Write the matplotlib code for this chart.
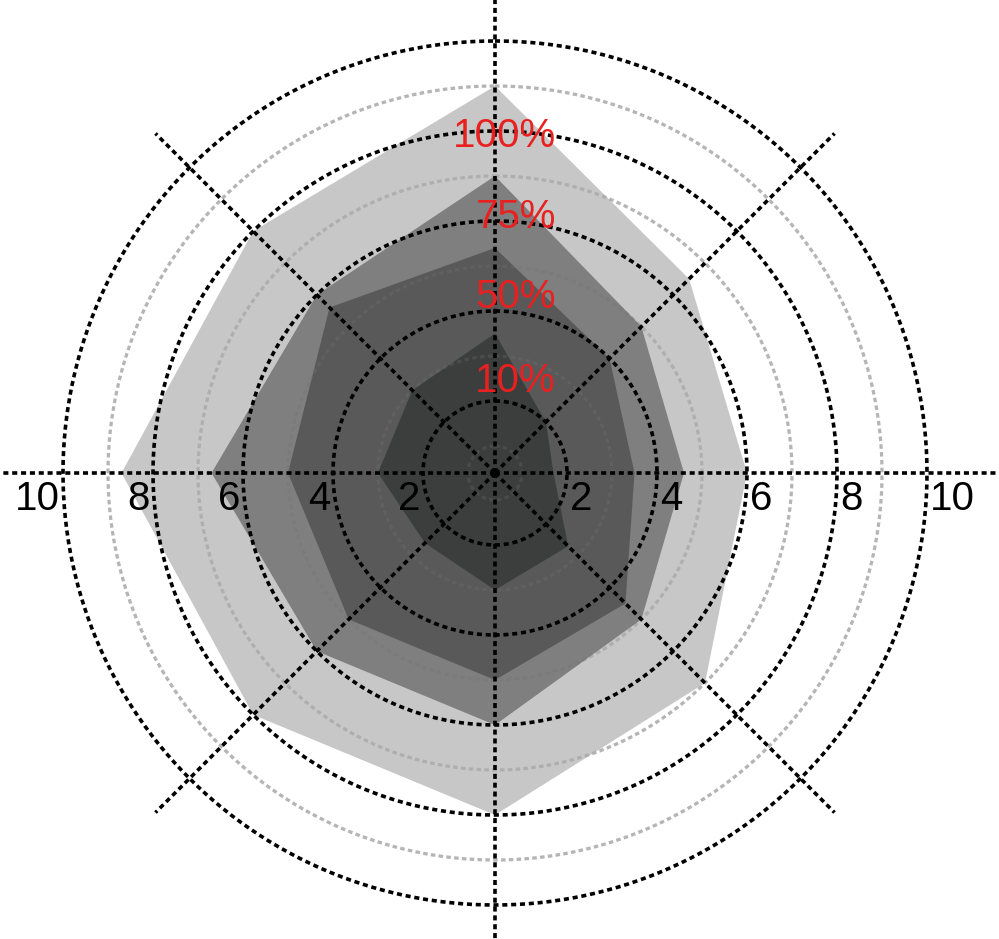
import numpy as np
import matplotlib
matplotlib.use("Agg")
import matplotlib.pyplot as plt

# ---- data ----
directions_deg = [0, 45, 90, 135, 180, 225, 270, 315]
layer_outer = [9.0, 6.5, 6.0, 7.0, 8.0, 8.0, 8.7, 8.0]
layer_second = [7.0, 5.0, 4.6, 5.0, 6.0, 6.0, 6.7, 6.0]
layer_third = [5.4, 4.0, 3.5, 4.5, 5.0, 5.0, 5.0, 5.6]
layer_inner = [3.5, 2.0, 1.7, 2.7, 3.0, 2.6, 3.0, 3.0]
major_rings = [2, 4, 6, 8, 10]
minor_rings = [1, 3, 5, 7, 9]
tick_labels = ["2", "4", "6", "8", "10"]
pct_labels = ["100%", "75%", "50%", "10%"]
pct_label_r = [7.64, 5.84, 4.07, 2.2]

plt.rcParams['font.family'] = ['Liberation Sans', 'DejaVu Sans']

W, H = 999, 939
fig = plt.figure(figsize=(W / 100, H / 100), dpi=100)
cx, cy, R = 495, 473, 450
ax = fig.add_axes([(cx - R) / W, (H - cy - R) / H, 2 * R / W, 2 * R / H], projection='polar')
ax.set_theta_zero_location('N')
ax.set_theta_direction(-1)
ax.set_ylim(0.4, 10.4)
ax.set_axis_off()

th = np.deg2rad(directions_deg)
th_c = np.append(th, th[0])
full = np.linspace(0, 2 * np.pi, 721)

dot = (0, (1.4, 1.05))
gray = '#b5b5b5'

# minor rings below polygons
for v in minor_rings:
    ax.plot(full, np.full_like(full, v), color=gray, lw=2.3, ls=dot, zorder=1)

# polygons (semi-transparent stacking)
layers = [layer_outer, layer_second, layer_third, layer_inner]
colors = [(170/255,)*3, (56/255,)*3, (52/255,)*3, (30/255, 36/255, 34/255)]
alphas = [0.65, 0.5, 0.5, 0.5]
for vals, c, a in zip(layers, colors, alphas):
    ax.fill(th_c, np.append(vals, vals[0]), color=c, alpha=a, lw=0, zorder=2)

# faint minor rings on top
for v in minor_rings:
    ax.plot(full, np.full_like(full, v), color=gray, lw=2.3, ls=dot, alpha=0.15, zorder=3)

# major rings
for v in major_rings:
    ax.plot(full, np.full_like(full, v), color='black', lw=2.6, ls=dot, zorder=4)

# spokes
for d in directions_deg:
    t = np.deg2rad(d)
    rend = 11.8 if d % 90 == 0 else 11.07
    ax.plot([t, t], [0.4, rend], color='black', lw=2.6, ls=dot, zorder=4, clip_on=False)

# tick labels along horizontal axis
for v, lab in zip(major_rings, tick_labels):
    ax.annotate(lab, xy=(np.deg2rad(90), v), xytext=(3, -7), textcoords='offset pixels',
                ha='left', va='top', fontsize=29, color='black', zorder=5, annotation_clip=False)
    ax.annotate(lab, xy=(np.deg2rad(270), v), xytext=(-3, -7), textcoords='offset pixels',
                ha='right', va='top', fontsize=29, color='black', zorder=5, annotation_clip=False)

# red percent labels
for lab, r in zip(pct_labels, pct_label_r):
    ax.annotate(lab, xy=(0, r), xytext=(61, 0), textcoords='offset pixels',
                ha='right', va='baseline', fontsize=29, color='#e82020', zorder=6,
                annotation_clip=False)

fig.savefig('out.png', dpi=100)
